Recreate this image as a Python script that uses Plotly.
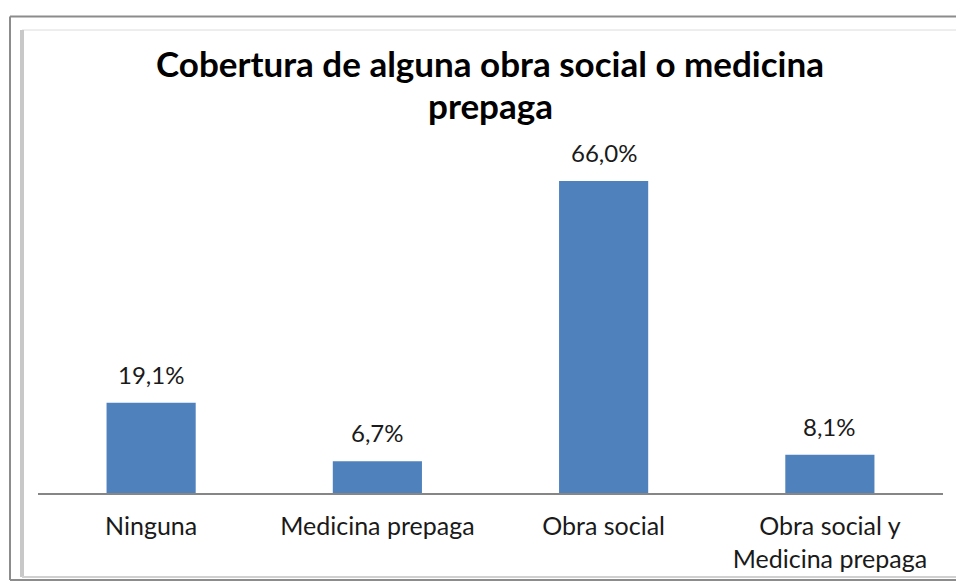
import plotly.graph_objects as go

# Data
CATEGORIES = ["Ninguna", "Medicina prepaga", "Obra social", "Obra social y<br>Medicina prepaga"]
VALUES = [19.1, 6.7, 66.0, 8.1]
LABELS = ["19,1%", "6,7%", "66,0%", "8,1%"]
TITLE_LINES = ["Cobertura de alguna obra social o medicina", "prepaga"]

W, H = 956, 584
# plot area on the page: x 38..943, y 162..493
L, T = 38, 162
R, B = W - 943, H - 493
PW, PH = W - L - R, H - T - B

BAR_COLOR = "#4F81BD"
FONT = "Lato, sans-serif"
TEXT_COLOR = "#1a1a1a"


def px_x(x):
    # pixel -> paper x
    return (x - L) / PW


def px_y(y):
    # pixel -> paper y
    return (H - B - y) / PH


fig = go.Figure(
    go.Bar(
        x=CATEGORIES,
        y=VALUES,
        marker=dict(color=BAR_COLOR, line=dict(width=0)),
        width=0.394,
        hoverinfo="x+y",
    )
)

fig.update_xaxes(
    showline=True, linecolor="#868686", linewidth=2,
    ticks="", showgrid=False, automargin=False, zeroline=False,
    tickfont=dict(size=25, color=TEXT_COLOR, family=FONT),
    ticklabelstandoff=10,
)
fig.update_yaxes(range=[0, 70], visible=False, showgrid=False, zeroline=False, automargin=False)

# frame around the chart (right side is cropped off in the original)
FRAME_R = 1000
shapes = []
for x0, y0, x1, y1, color, width in [
    (10, 16.5, FRAME_R, 16.5, "#8c8c8c", 2),     # outer top
    (10, 16.5, 10, 580, "#8c8c8c", 2),           # outer left
    (10, 580, FRAME_R, 580, "#8c8c8c", 2),       # outer bottom
    (22, 30, FRAME_R, 30, "#dcdcdc", 1),         # inner top
    (22, 30, 22, 577, "#c8c8c8", 4),             # inner left shadow
    (22, 577, FRAME_R, 577, "#d0d0d0", 2),       # inner bottom
]:
    shapes.append(dict(type="line", xref="paper", yref="paper",
                       x0=px_x(x0), x1=px_x(x1), y0=px_y(y0), y1=px_y(y1),
                       line=dict(color=color, width=width), layer="below"))

annotations = [
    dict(text=line, x=px_x(490), y=px_y(yy), xref="paper", yref="paper",
         xanchor="center", yanchor="middle", showarrow=False,
         font=dict(size=35, color="black", family=FONT, weight="bold"))
    for line, yy in zip(TITLE_LINES, [63, 105])
]

# value labels above the bars
for cat, val, lab in zip(CATEGORIES, VALUES, LABELS):
    annotations.append(dict(
        text=lab, x=cat, y=val, xref="x", yref="y",
        xanchor="center", yanchor="bottom", yshift=12, showarrow=False,
        font=dict(size=24, color=TEXT_COLOR, family=FONT),
    ))

fig.update_layout(
    width=W, height=H,
    margin=dict(l=L, r=R, t=T, b=B, autoexpand=False),
    paper_bgcolor="white", plot_bgcolor="white",
    showlegend=False,
    shapes=shapes,
    annotations=annotations,
    font=dict(family=FONT),
)

# drop the default page margin so the figure fills the window exactly
fig.write_html(
    "out.html",
    config={"displayModeBar": False},
    post_script="document.body.style.margin='0';document.body.style.overflow='hidden';",
)
